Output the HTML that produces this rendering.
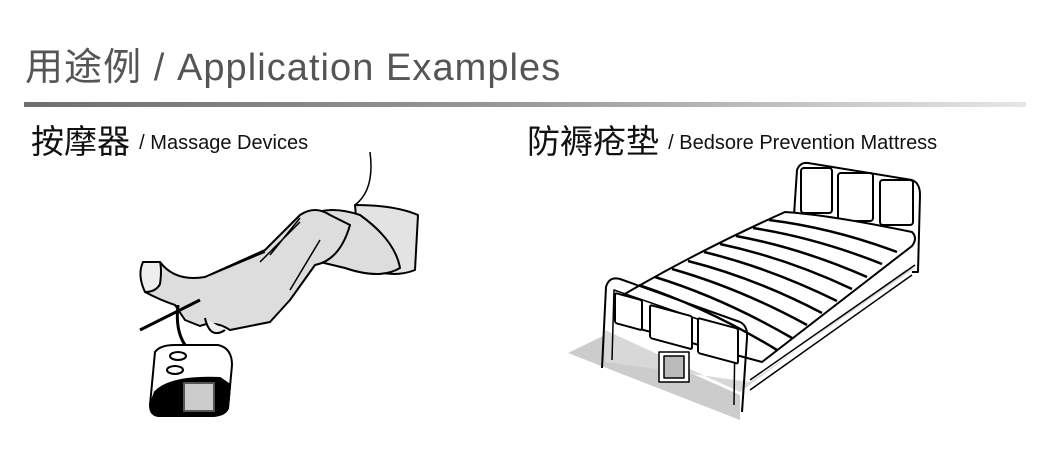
<!DOCTYPE html>
<html><head><meta charset="utf-8"><style>
body{margin:0;width:1060px;height:450px;background:#fff;overflow:hidden;position:relative;font-family:"Liberation Sans","Noto Sans CJK SC",sans-serif}
.t{position:absolute;left:25px;top:36px;font-size:38px;color:#555;white-space:nowrap;letter-spacing:1.05px}
.rule{position:absolute;left:24px;top:102px;width:1002px;height:5px;background:linear-gradient(to right,#6f6f6f,#9a9a9a 50%,#e6e6e6)}
.s{position:absolute;top:115px;font-size:33px;color:#111;white-space:nowrap}
.s span{font-size:20px;letter-spacing:0px;vertical-align:4px}
svg{position:absolute;left:0;top:0}
</style></head><body>
<div class="t">用途例 / Application Examples</div>
<div class="rule"></div>
<div class="s" style="left:31px">按摩器 <span>/ Massage Devices</span></div>
<div class="s" style="left:527px">防褥疮垫 <span>/ Bedsore Prevention Mattress</span></div>
<svg width="1060" height="450" stroke="#000" stroke-width="2" stroke-linejoin="round" fill="none">
<!-- leg -->
<path d="M370,152 Q375,190 355,205 L410,215 Q420,240 410,270" stroke-width="1.5"/>
<path d="M355,205 Q395,205 418,215 L415,270 Q390,280 360,265 Z" fill="#e3e3e3"/>
<path d="M310,215 Q330,205 360,215 Q395,240 400,268 Q380,280 345,268 L320,262 Z" fill="#ddd"/>
<path d="M143,262 L160,262 Q175,282 205,277 L265,250 L300,215 Q315,205 330,215 L350,225 Q340,260 315,265 L290,300 L270,322 L230,330 Q215,320 200,326 L185,320 L175,305 Q160,300 145,292 Z" fill="#ddd"/>
<path d="M143,262 Q137,275 145,292 Q156,292 160,284 Q162,270 160,262 Z" fill="#eee"/>
<path d="M205,318 Q210,340 225,330" fill="#eee"/>
<path d="M270,255 L300,218 M260,262 L300,222 M290,290 L320,240 M210,275 L265,252" stroke-width="1.5"/>
<path d="M140,330 L200,300 M178,305 Q175,330 185,345" stroke-width="3"/>
<path d="M155,352 Q160,345 175,345 L218,345 Q232,348 232,365 L228,408 Q225,416 210,416 L160,416 Q150,416 150,405 Z" fill="#fff"/>
<path d="M155,392 Q170,376 220,378 L230,385 L228,408 Q225,416 210,416 L160,416 Q150,416 152,400 Z" fill="#000"/>
<rect x="184" y="383" width="30" height="28" fill="#ccc" stroke="#555"/>
<ellipse cx="178" cy="356" rx="8" ry="4"/><ellipse cx="175" cy="370" rx="8" ry="4"/>
<!-- bed -->
<polygon points="568,353 605,335 740,395 740,420" fill="#ccc" stroke="none"/>
<polygon points="605,330 740,392 905,270 915,268 750,382 605,362" fill="#d8d8d8" stroke="none"/>
<path d="M793,230 L797,170 Q800,162 808,163 L912,180 Q920,183 920,195 L918,272 L912,272"/>
<rect x="801" y="168" width="31" height="45" rx="3"/>
<rect x="838" y="173" width="35" height="48" rx="3"/>
<rect x="880" y="180" width="33" height="45" rx="3"/>
<path d="M623,295 Q700,250 785,212 Q830,215 912,232 Q918,238 912,246 L762,362 Q700,345 625,325 Z" fill="#fff"/>
<path d="M769,220 Q833,228 897,252 M753,228 Q817,238 882,264 M736,236 Q801,248 867,277 M720,244 Q786,258 852,289 M704,252 Q770,268 837,301 M688,261 Q755,278 822,313 M672,269 Q739,288 807,325 M655,277 Q723,298 792,338 M639,285 Q708,308 777,350" stroke-width="2.5"/>
<path d="M750,380 L915,265 M750,390 L912,275" stroke-width="1.5"/>
<path d="M602,368 L606,287 Q609,276 620,279 L740,322 Q748,326 747,338 L742,412"/>
<path d="M612,360 L614,290 L735,332 L734,405" stroke-width="1.5"/>
<rect x="615" y="293" width="27" height="30" transform="skewY(15)" transform-origin="615 293" rx="2" fill="#fff"/>
<rect x="650" y="305" width="42" height="33" transform="skewY(15)" transform-origin="650 305" rx="2" fill="#fff"/>
<rect x="698" y="318" width="40" height="35" transform="skewY(15)" transform-origin="698 318" rx="2" fill="#fff"/>
<rect x="659" y="352" width="30" height="30" fill="#fff" stroke-width="1.5"/>
<rect x="664" y="356" width="20" height="22" fill="#bbb" stroke-width="1.5"/>
</svg>
</body></html>
